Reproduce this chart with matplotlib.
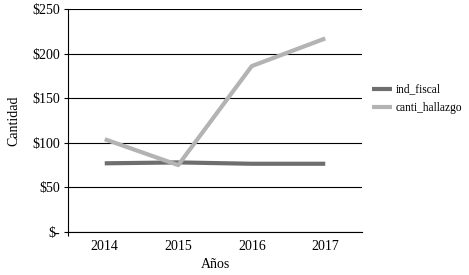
import matplotlib
matplotlib.use("Agg")
import matplotlib.pyplot as plt

years = ["2014", "2015", "2016", "2017"]
ind_fiscal = [77, 78, 76.5, 76.5]
canti_hallazgo = [104, 75, 186, 217]
yticks = [0, 50, 100, 150, 200, 250]
ytick_labels = ["$-", "$50", "$100", "$150", "$200", "$250"]

plt.rcParams['font.family'] = ['Liberation Serif', 'DejaVu Serif']

fig = plt.figure(figsize=(4.69, 2.75), dpi=100)
ax = fig.add_axes([68/469, 1-232/275, (362-68)/469, (232-9)/275])

x = list(range(len(years)))
ax.plot(x, ind_fiscal, color="#6e6e6e", lw=3.0, solid_capstyle="butt", label="ind_fiscal", zorder=3)
ax.plot(x, canti_hallazgo, color="#b3b3b3", lw=3.0, solid_capstyle="butt", label="canti_hallazgo", zorder=4)

ax.set_xlim(-0.5, 3.5)
ax.set_ylim(0, 250)
ax.set_yticks(yticks)
ax.set_yticklabels(ytick_labels, fontsize=10)
ax.set_xticks(x)
ax.set_xticklabels(years, fontsize=10)
ax.set_xticks([-0.5], minor=True)
ax.tick_params(axis='x', which='major', length=0, pad=6)
ax.tick_params(axis='x', which='minor', length=3, width=0.8, direction='out')
ax.tick_params(axis='y', length=3, width=0.8, direction='out', pad=3)
ax.yaxis.grid(True, color="black", lw=0.8)
ax.set_axisbelow(True)
for s in ["top", "right"]:
    ax.spines[s].set_visible(False)
ax.spines["left"].set_linewidth(0.8)
ax.spines["bottom"].set_linewidth(0.8)

ax.set_xlabel("Años", fontsize=10, labelpad=3)
ax.set_ylabel("Cantidad", fontsize=10, labelpad=8)

fig.legend(loc="center left", bbox_to_anchor=(372/469, 1-99/275), frameon=False,
           fontsize=8.3, handlelength=1.7, handletextpad=0.35, labelspacing=0.6,
           borderpad=0, borderaxespad=0)

fig.savefig("out.png", dpi=100)
